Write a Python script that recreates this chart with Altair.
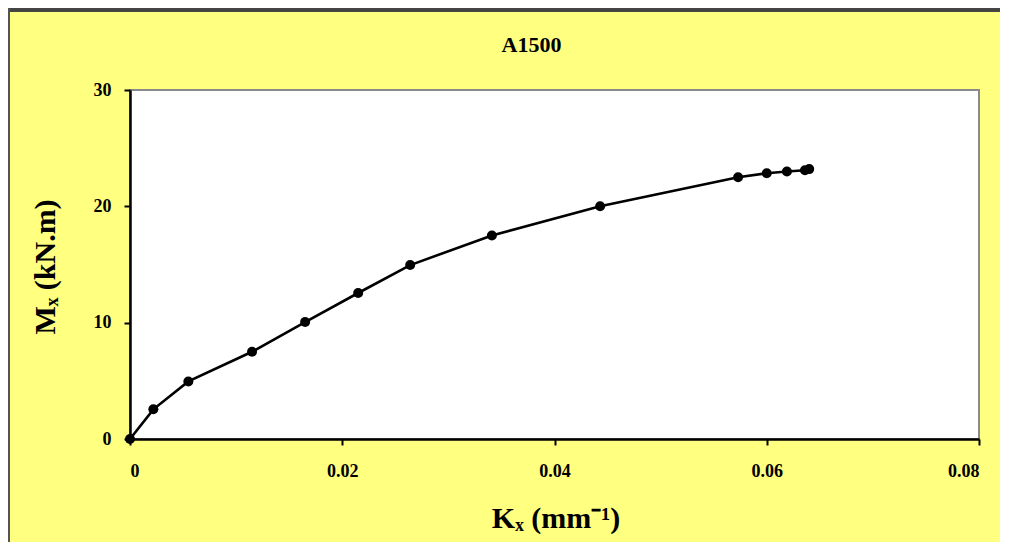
import altair as alt
import pandas as pd

# Data
kx = [0.0, 0.0022, 0.0055, 0.0115, 0.0165, 0.0215, 0.0264, 0.0341, 0.0443, 0.0573, 0.0600, 0.0619, 0.0636, 0.0640]
mx = [0.0, 2.55, 4.95, 7.5, 10.05, 12.55, 14.95, 17.5, 20.0, 22.5, 22.85, 23.0, 23.1, 23.2]
x_ticks = [0, 0.02, 0.04, 0.06, 0.08]
y_ticks = [0, 10, 20, 30]
title_text = ["A1500"]

df = pd.DataFrame({"kx": kx, "mx": mx})

W, H = 849, 349
PL, PT, PR, PB = 122, 82, 21, 103
BG = "#FFFF80"
FONT = "Liberation Serif"

x_enc = alt.X(
    "kx:Q",
    scale=alt.Scale(domain=[0, 0.08], nice=False, zero=True),
    axis=alt.Axis(
        values=x_ticks, format=".2~f", title="Kₓ (mm⁻¹)",
        titleX=W / 2 + 1, titleY=79, titleBaseline="middle", titleAlign="center",
    ),
)
y_enc = alt.Y(
    "mx:Q",
    scale=alt.Scale(domain=[0, 30], nice=False),
    axis=alt.Axis(
        values=y_ticks, title="Mₓ (kN.m)",
        titleX=-85, titleY=H / 2 + 2, titleAngle=-90, titleBaseline="middle", titleAlign="center",
    ),
)

base = alt.Chart(df)
line = base.mark_line(color="black", strokeWidth=2.6).encode(x=x_enc, y=y_enc)
pts = base.mark_point(filled=True, color="black", size=100, opacity=1, shape="circle").encode(x=x_enc, y=y_enc)

title = alt.Chart(pd.DataFrame({"t": title_text})).mark_text(
    font=FONT, fontSize=22, fontWeight="bold", color="black", align="center", baseline="middle"
).encode(text="t:N", x=alt.value(W / 2 - 23), y=alt.value(-45))

# outer frame (top and left edge of the chart background)
frame_top = alt.Chart(df).mark_rule(color="#444444", strokeWidth=2.5).encode(
    x=alt.value(-PL), x2=alt.value(W + PR), y=alt.value(-PT + 2)
)
frame_left = alt.Chart(df).mark_rule(color="#555555", strokeWidth=1.5).encode(
    x=alt.value(-PL + 1), y=alt.value(-PT), y2=alt.value(H + PB)
)

chart = alt.layer(line, pts, title, frame_top, frame_left).properties(
    width=W,
    height=H,
    autosize=alt.AutoSizeParams(type="none"),
    padding={"left": PL, "top": PT, "right": PR, "bottom": PB},
    background=BG,
).configure_view(
    fill="white", stroke="#8a8a8a", strokeWidth=2
).configure_axis(
    grid=False,
    domainColor="black", domainWidth=2.5,
    tickColor="black", tickWidth=2, tickSize=6,
    labelFont=FONT, labelFontSize=18, labelFontWeight="bold", labelColor="black",
    titleFont=FONT, titleFontSize=30, titleFontWeight="bold", titleColor="black",
).configure_axisX(
    labelPadding=17
).configure_axisY(
    labelPadding=13
)

chart.save("out.html", embed_options={"renderer": "svg", "actions": False})
